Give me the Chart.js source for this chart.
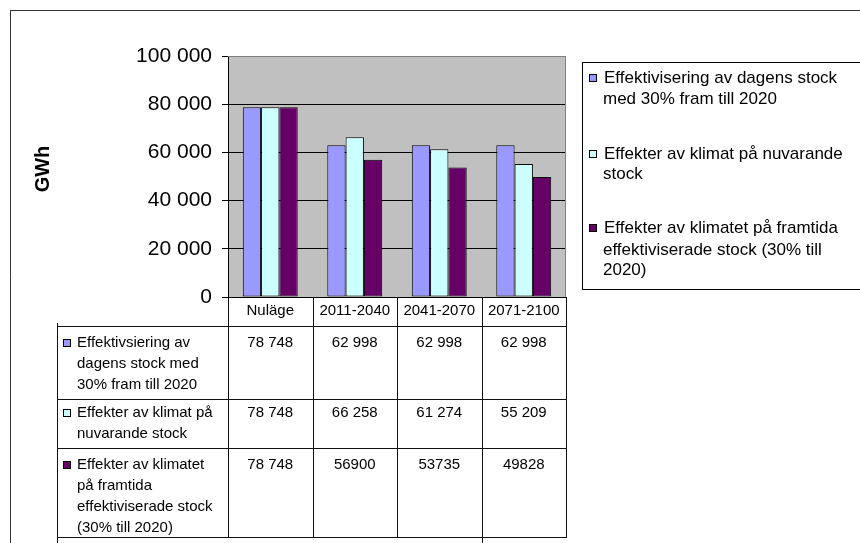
<!DOCTYPE html>
<html>
<head>
<meta charset="utf-8">
<script src="https://cdn.jsdelivr.net/npm/chart.js@4"></script>
<style>
html, body { margin: 0; padding: 0; background: #fff; }
#wrap { width: 860px; height: 543px; position: relative; }
</style>
</head>
<body>
<div id="wrap"><canvas id="chart"></canvas></div>
<script>
// kategorier
const perioder = ["Nuläge", "2011-2040", "2041-2070", "2071-2100"];

// serier (GWh)
const effektivisering = [78748, 62998, 62998, 62998];
const klimatNuvarande = [78748, 66258, 61274, 55209];
const klimatFramtida = [78748, 56900, 53735, 49828];

// texter i datatabellen, skrivna som i originalet
const tabellEffektivisering = ["78 748", "62 998", "62 998", "62 998"];
const tabellKlimatNuvarande = ["78 748", "66 258", "61 274", "55 209"];
const tabellKlimatFramtida = ["78 748", "56900", "53735", "49828"];

// y-axel
const yTicks = [0, 20000, 40000, 60000, 80000, 100000];
const yTitel = "GWh";

// legend och radrubriker (med radbrytningar)
const legendText = [
  ["Effektivisering av dagens stock", "med 30% fram till 2020"],
  ["Effekter av klimat på nuvarande", "stock"],
  ["Effekter av klimatet på framtida", "effektiviserade stock (30% till", "2020)"]
];
const radRubriker = [
  ["Effektivsiering av", "dagens stock med", "30% fram till 2020"],
  ["Effekter av klimat på", "nuvarande stock"],
  ["Effekter av klimatet", "på framtida", "effektiviserade stock", "(30% till 2020)"]
];

const farger = ["#9999FF", "#CCFFFF", "#660066"];
const FONT = "'Liberation Sans', Arial, sans-serif";

function mellanrum(v) {
  return String(v).replace(/\B(?=(\d{3})+(?!\d))/g, " ");
}

function ruta(ctx, x, y, farg) {
  ctx.fillStyle = farg;
  ctx.fillRect(x, y, 8, 8);
  ctx.strokeStyle = "#000";
  ctx.lineWidth = 1;
  ctx.strokeRect(x + 0.5, y + 0.5, 7, 7);
}

function linje(ctx, x1, y1, x2, y2) {
  ctx.beginPath();
  ctx.moveTo(x1, y1);
  ctx.lineTo(x2, y2);
  ctx.stroke();
}

// bakgrund, ram, legend och datatabell
const excelDelar = {
  id: "excelDelar",
  beforeDraw(chart) {
    const ctx = chart.ctx, a = chart.chartArea;
    ctx.save();
    ctx.fillStyle = "#fff";
    ctx.fillRect(0, 0, chart.width, chart.height);
    ctx.fillStyle = "#C0C0C0";
    ctx.fillRect(a.left, a.top, a.right - a.left, a.bottom - a.top);
    ctx.restore();
  },
  afterDraw(chart) {
    const ctx = chart.ctx, a = chart.chartArea, x = chart.scales.x;
    ctx.save();

    // plot-ram (grå)
    ctx.strokeStyle = "#808080";
    ctx.lineWidth = 1;
    linje(ctx, a.left, a.top + 0.5, a.right, a.top + 0.5);
    linje(ctx, a.right - 0.5, a.top, a.right - 0.5, a.bottom);

    // yttre ram
    ctx.strokeStyle = "#333";
    linje(ctx, 10, 10.5, 860, 10.5);
    linje(ctx, 10.5, 10, 10.5, 543);

    // y-titel
    ctx.fillStyle = "#000";
    ctx.font = "bold 20px " + FONT;
    ctx.textAlign = "center";
    ctx.textBaseline = "middle";
    ctx.translate(43, 169);
    ctx.rotate(-Math.PI / 2);
    ctx.fillText(yTitel, 0, 0);
    ctx.setTransform(chart.currentDevicePixelRatio, 0, 0, chart.currentDevicePixelRatio, 0, 0);

    // legend
    ctx.fillStyle = "#fff";
    ctx.fillRect(582, 62, 300, 227);
    ctx.strokeStyle = "#000";
    ctx.strokeRect(582.5, 62.5, 300, 227);
    const legendY = [[78, 99], [154, 174], [228, 250, 270]];
    ctx.font = "17px " + FONT;
    ctx.textAlign = "left";
    legendText.forEach((rader, i) => {
      ruta(ctx, 589, legendY[i][0] - 4, farger[i]);
      ctx.fillStyle = "#000";
      rader.forEach((t, j) => ctx.fillText(t, j === 0 ? 604 : 603, legendY[i][j]));
    });

    // datatabell
    const bredd = (a.right - a.left) / perioder.length;
    const kanter = perioder.map((p, i) => x.getPixelForValue(i) - bredd / 2);
    kanter.push(a.right);
    const huvudTopp = a.bottom;
    const radTopp = [a.bottom + 29, a.bottom + 102, a.bottom + 151, a.bottom + 240];

    ctx.strokeStyle = "#111";
    ctx.lineWidth = 1;
    radTopp.forEach(y => linje(ctx, 57, Math.round(y) + 0.5, a.right, Math.round(y) + 0.5));
    linje(ctx, 57.5, radTopp[0] - 3, 57.5, 543);
    kanter.forEach((k, i) => {
      const xx = Math.round(k) + 0.5;
      linje(ctx, xx, huvudTopp, xx, i === 3 ? 543 : radTopp[3] + 1);
    });

    ctx.fillStyle = "#000";
    ctx.font = "15px " + FONT;
    ctx.textAlign = "center";
    perioder.forEach((p, i) => ctx.fillText(p, x.getPixelForValue(i), huvudTopp + 14));

    const tabell = [tabellEffektivisering, tabellKlimatNuvarande, tabellKlimatFramtida];
    const forstaRad = [17, 14, 17];
    const radHojd = 21;
    tabell.forEach((rad, r) => {
      const y0 = radTopp[r] + forstaRad[r];
      ctx.textAlign = "center";
      ctx.fillStyle = "#000";
      rad.forEach((t, i) => ctx.fillText(t, x.getPixelForValue(i), y0));
      ruta(ctx, 63, y0 - 4, farger[r]);
      ctx.fillStyle = "#000";
      ctx.textAlign = "left";
      radRubriker[r].forEach((t, j) => ctx.fillText(t, 77, y0 + j * radHojd));
    });

    ctx.restore();
  }
};

new Chart(
document.getElementById("chart"),
{
type: "bar",
data: {
labels: perioder,
datasets: [
{ label: legendText[0].join(" "), data: effektivisering, backgroundColor: farger[0] },
{ label: legendText[1].join(" "), data: klimatNuvarande, backgroundColor: farger[1] },
{ label: legendText[2].join(" "), data: klimatFramtida, backgroundColor: farger[2] }
].map(d => Object.assign(d, {
  borderColor: "#000",
  borderWidth: 1,
  borderSkipped: false,
  categoryPercentage: 0.65,
  barPercentage: 1
}))
},
options: {
responsive: true,
maintainAspectRatio: false,
animation: false,
layout: { padding: { left: 0, top: 56, right: 294, bottom: 246 } },
plugins: { legend: { display: false }, tooltip: { enabled: false } },
scales: {
x: { display: false },
y: {
  min: 0,
  max: 100000,
  afterBuildTicks: s => { s.ticks = yTicks.map(v => ({ value: v })); },
  afterFit: s => { s.width = 228; },
  border: { display: true, color: "#000", width: 1 },
  grid: {
    color: c => (c.tick && c.tick.value === 100000) ? "rgba(0,0,0,0)" : "#000",
    tickColor: "#000",
    tickLength: 6,
    lineWidth: 1
  },
  ticks: {
    color: "#000",
    padding: 10,
    font: { family: FONT, size: 21 },
    callback: v => mellanrum(v)
  }
}
}
},
plugins: [excelDelar]
}
);
</script>
</body>
</html>
